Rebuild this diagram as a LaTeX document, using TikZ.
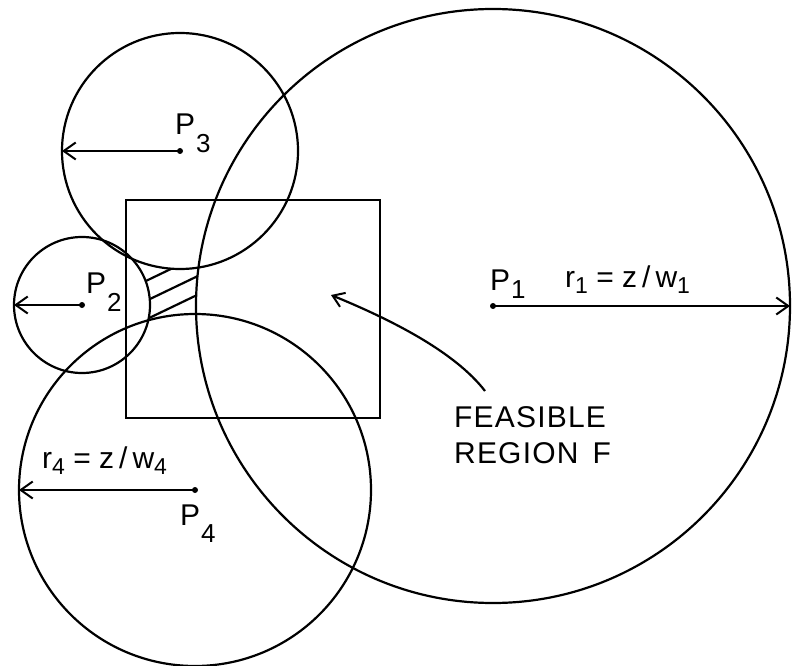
\documentclass[tikz,border=0pt]{standalone}
\usepackage{fontspec}
\setmainfont{Liberation Sans}
\usetikzlibrary{arrows.meta}
\newcommand\Pidx[2]{P\kern1pt\raisebox{#2}{\fontsize{26}{26}\selectfont #1}}
\newcommand\sidx[1]{\raisebox{-6pt}{\fontsize{23}{23}\selectfont #1}}
\begin{document}
\begin{tikzpicture}[x=1pt,y=-1pt,
  curve/.style={line width=2.2pt},
  radarrow/.style={line width=2.2pt,-{Straight Barb[length=12pt,width=17pt,line width=2pt]}},
  feasarrow/.style={line width=2.2pt,-{Straight Barb[length=11pt,width=15pt,line width=2pt]}},
  hatch/.style={line width=2.2pt},
  cdot/.style={circle,fill,inner sep=0pt,minimum size=6pt},
  lbl/.style={font=\fontsize{30}{32}\selectfont,inner sep=0pt},
  txt/.style={font=\addfontfeatures{LetterSpace=4}\fontsize{30}{32}\selectfont,inner sep=0pt}
  ]
\useasboundingbox (0,0) rectangle (793,666);
\fill[white] (0,0) rectangle (793,666);
% centres and radius ends
\coordinate (c1) at (493,306);
\coordinate (c2) at (82,305);
\coordinate (c3) at (180,151);
\coordinate (c4) at (195,490);
\coordinate (e1) at (790,306);
\coordinate (e2) at (14,305);
\coordinate (e3) at (62,151);
\coordinate (e4) at (19,490);
% circles
\draw[curve] (c1) circle[radius=297];
\draw[curve] (c2) circle[radius=68];
\draw[curve] (c3) circle[radius=118];
\draw[curve] (c4) circle[radius=176];
% rectangle
\draw[curve,line width=2.4pt] (126,200) rectangle (380,418);
% hatched region
\begin{scope}[even odd rule]
  \clip (126,240) rectangle (205,330);
  \begin{scope}[even odd rule]
  \clip (0,0) rectangle (793,666) (c1) circle[radius=297];
  \begin{scope}[even odd rule]
  \clip (0,0) rectangle (793,666) (c2) circle[radius=68];
  \begin{scope}[even odd rule]
  \clip (0,0) rectangle (793,666) (c3) circle[radius=118];
  \begin{scope}[even odd rule]
  \clip (0,0) rectangle (793,666) (c4) circle[radius=176];
  \draw[hatch] (120,293.4) -- (210,250.2);
  \draw[hatch] (120,313.4) -- (210,270.2);
  \draw[hatch] (120,332) -- (210,288.8);
  \end{scope}
  \end{scope}
  \end{scope}
  \end{scope}
\end{scope}
% radius arrows
\node[cdot] (d1) at (c1) {};
\node[cdot] (d2) at (c2) {};
\node[cdot] (d3) at (c3) {};
\node[cdot] (d4) at (c4) {};
\draw[radarrow] (c1) -- (e1);
\draw[radarrow] (c2) -- (e2);
\draw[radarrow] (c3) -- (e3);
\draw[radarrow] (c4) -- (e4);
% labels
\node[lbl,anchor=base west] (lp1) at (490,290) {\Pidx{1}{-8pt}};
\node[lbl,anchor=base west] (lp2) at (86,293) {\Pidx{2}{-18pt}};
\node[lbl,anchor=base west] (lp3) at (175,135) {\Pidx{3}{-18pt}};
\node[lbl,anchor=base west] (lp4) at (180,525) {\Pidx{4}{-17pt}};
\node[lbl,anchor=base west] (lr1) at (565,287) {r\sidx{1} = z\,/\,w\sidx{1}};
\node[lbl,anchor=base west] (lr4) at (42,468) {r\sidx{4} = z\,/\,w\sidx{4}};
% feasible region
\node[txt,anchor=base west] (feas) at (454,427) {FEASIBLE};
\node[txt,anchor=base west] (reg) at (454,463) {REGION\hspace{14pt}F};
\coordinate (fs) at (485,391);
\coordinate (ftip) at (331,295);
\draw[feasarrow] (fs) .. controls (455,352) and (392,320) .. (ftip);
\end{tikzpicture}
\end{document}
